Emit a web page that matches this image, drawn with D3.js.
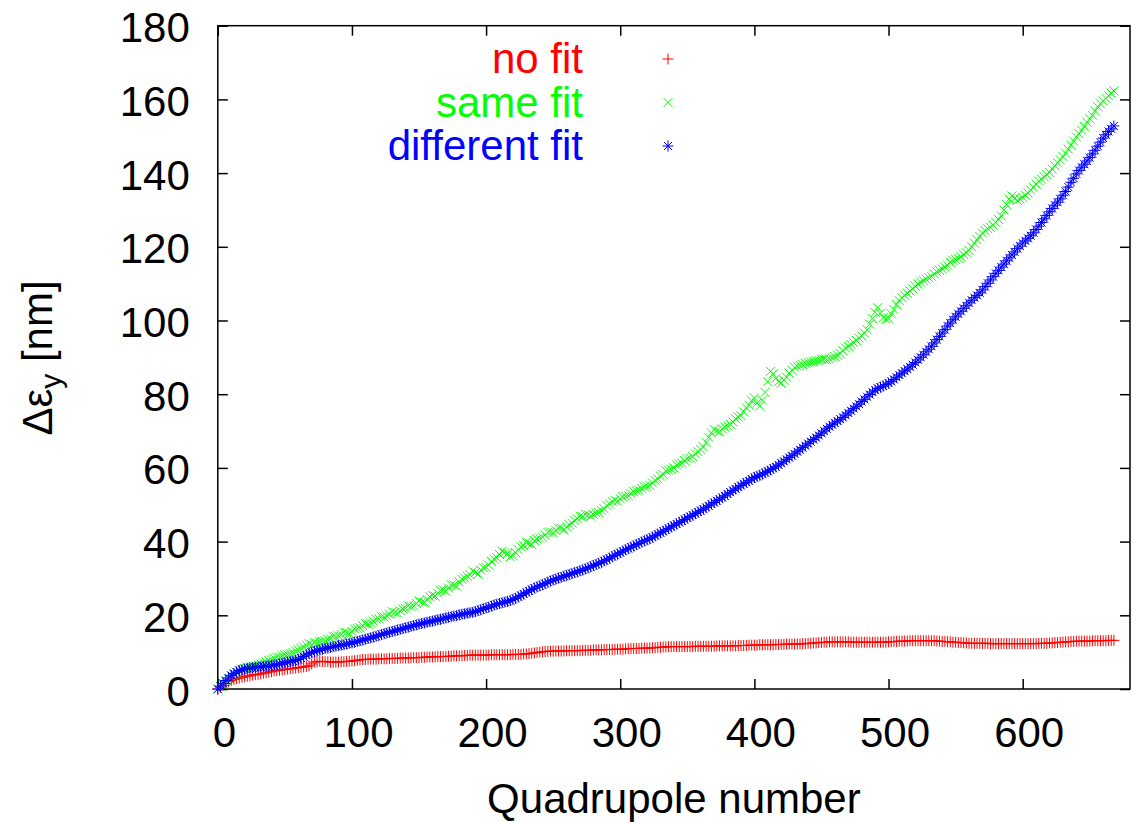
<!DOCTYPE html>
<html><head><meta charset="utf-8">
<script src="https://cdn.jsdelivr.net/npm/d3@7"></script>
<style>
body{margin:0;background:#fff}
text{font-family:"Liberation Sans",Arial,Helvetica,sans-serif}
</style>
</head><body>
<svg id="chart" width="1137" height="822"></svg>
<script>
// Quadrupole numbers sampled (every 2nd quadrupole)
const quadrupoles = d3.range(0, 669, 2);

const seriesNames = ["no fit", "same fit", "different fit"];
const seriesColors = ["#ff0000", "#00ff00", "#0000ff"];

const noFit = [
0,0.5,1.0,1.5,2.0,2.3,2.6,2.8,3.0,3.2,3.3,3.5,3.6,3.8,3.9,4.0,4.1,4.3,4.4,4.6,
4.7,4.9,5.0,5.1,5.2,5.3,5.4,5.5,5.6,5.7,5.8,5.9,6.0,6.1,6.3,6.8,7.3,7.4,7.5,7.5,
7.4,7.4,7.3,7.3,7.3,7.3,7.4,7.4,7.5,7.5,7.6,7.7,7.8,7.9,8.0,8.0,8.1,8.1,8.1,8.1,
8.2,8.2,8.2,8.2,8.3,8.3,8.3,8.3,8.4,8.4,8.4,8.4,8.5,8.5,8.5,8.5,8.6,8.6,8.7,8.7,
8.7,8.7,8.8,8.8,8.8,8.8,8.9,8.9,9.0,9.0,9.0,9.0,9.1,9.1,9.2,9.2,9.2,9.2,9.2,9.2,
9.2,9.2,9.3,9.3,9.3,9.3,9.3,9.3,9.3,9.3,9.4,9.4,9.4,9.4,9.5,9.5,9.6,9.7,9.8,9.9,
10.0,10.1,10.2,10.2,10.3,10.3,10.3,10.3,10.3,10.3,10.4,10.4,10.4,10.4,10.4,10.4,10.5,10.5,10.5,10.5,
10.6,10.6,10.6,10.6,10.7,10.7,10.7,10.7,10.8,10.8,10.8,10.8,10.9,10.9,11.0,11.0,11.0,11.0,11.1,11.1,
11.1,11.1,11.2,11.2,11.3,11.3,11.4,11.4,11.5,11.5,11.5,11.5,11.5,11.5,11.5,11.5,11.5,11.5,11.6,11.6,
11.6,11.6,11.6,11.6,11.6,11.6,11.7,11.7,11.7,11.7,11.7,11.7,11.7,11.7,11.8,11.8,11.8,11.8,11.9,11.9,
11.9,11.9,12.0,12.0,12.0,12.0,12.0,12.0,12.1,12.1,12.1,12.1,12.2,12.2,12.2,12.2,12.2,12.2,12.3,12.3,
12.4,12.4,12.5,12.5,12.6,12.6,12.7,12.7,12.8,12.8,12.8,12.8,12.8,12.8,12.8,12.8,12.7,12.7,12.7,12.7,
12.7,12.7,12.7,12.7,12.7,12.7,12.7,12.7,12.7,12.7,12.8,12.8,12.9,12.9,13.0,13.0,13.0,13.0,13.1,13.1,
13.1,13.1,13.1,13.1,13.1,13.1,13.1,13.1,13.0,13.0,12.9,12.9,12.8,12.8,12.7,12.7,12.6,12.6,12.5,12.5,
12.4,12.4,12.4,12.4,12.4,12.4,12.4,12.4,12.3,12.3,12.3,12.3,12.3,12.3,12.3,12.3,12.3,12.3,12.3,12.3,
12.3,12.3,12.3,12.3,12.3,12.3,12.4,12.4,12.4,12.4,12.5,12.5,12.6,12.6,12.7,12.7,12.8,12.8,12.9,12.9,
13.0,13.0,13.0,13.0,13.0,13.0,13.1,13.1,13.1,13.1,13.1,13.1,13.2,13.2,13.2
];

const sameFit = [
0,0.6,1.2,2.0,2.8,3.5,4.0,4.6,5.0,5.4,5.6,5.9,6.0,6.2,6.3,6.6,6.8,7.1,7.3,7.7,
7.9,8.3,8.6,8.7,9.0,9.3,9.4,9.6,9.9,10.3,10.6,11.0,11.4,11.9,12.3,12.0,12.6,12.4,12.8,13.0,
13.1,13.5,13.6,14.3,14.2,14.4,14.8,15.4,15.3,15.0,15.6,16.3,16.4,16.6,17.2,17.8,17.6,17.9,18.4,18.9,
19.0,19.6,19.5,19.8,20.3,21.0,20.8,20.6,21.2,21.7,21.9,22.6,22.4,22.5,23.2,23.9,23.6,23.5,24.3,25.0,
25.4,25.2,26.0,26.8,26.9,26.5,27.4,28.3,28.2,27.9,29.0,29.8,30.1,30.6,31.0,32.0,31.6,31.2,32.3,32.9,
33.0,33.6,34.6,35.3,35.6,36.5,37.4,37.0,36.8,35.9,36.2,37.0,37.8,38.6,38.9,39.8,39.6,39.2,40.3,40.7,
40.9,41.2,41.8,42.5,42.6,42.4,43.0,43.7,43.6,43.2,44.0,44.6,45.0,45.8,46.2,46.9,46.8,47.4,47.3,46.9,
47.4,47.8,47.9,48.5,48.9,49.8,50.2,50.9,51.2,51.0,51.6,52.2,52.3,52.5,53.0,53.6,53.8,53.9,54.4,54.9,
55.0,55.3,55.9,56.6,57.0,57.8,58.2,59.2,59.4,59.6,60.0,60.8,61.1,61.3,62.0,62.5,62.6,63.1,63.8,64.4,
65.0,65.7,66.9,68.3,69.5,70.4,70.0,69.8,70.6,71.1,71.4,71.8,72.5,73.3,73.8,74.2,75.2,76.3,77.0,78.2,
79.0,77.6,76.8,78.4,80.5,83.4,86.2,85.5,84.3,83.4,83.0,83.8,84.6,85.7,86.5,87.3,87.6,87.8,88.0,88.4,
88.5,88.7,88.9,89.1,89.2,89.4,89.5,89.4,89.6,89.9,90.2,90.6,91.0,91.8,92.5,93.0,93.5,94.0,94.6,95.2,
95.8,96.6,97.5,99.0,100.5,102.2,103.5,102.0,100.8,100.4,100.6,101.8,103.0,104.3,105.4,106.2,106.8,107.4,108.0,108.6,
109.3,109.9,110.4,110.8,111.2,111.6,112.0,112.7,113.2,113.6,114.0,114.5,115.0,115.8,116.3,116.6,116.8,117.3,117.9,118.4,
119.0,120.0,121.0,121.9,122.8,123.7,124.4,124.9,125.3,125.9,126.6,127.4,128.4,130.0,131.5,132.9,133.8,133.2,132.6,133.0,
133.4,134.0,134.6,135.4,136.2,137.0,137.8,138.4,139.0,139.6,140.2,141.1,142.0,142.8,143.6,144.5,145.4,146.5,147.6,148.7,
149.8,150.7,151.6,152.7,153.8,154.7,155.7,156.9,158.0,158.8,159.6,160.3,161.0,161.7,162.3
];

const differentFit = [
0,0.8,1.5,2.3,3.0,3.7,4.2,4.6,5.0,5.2,5.4,5.6,5.7,5.8,5.9,6.0,6.0,6.1,6.2,6.3,
6.4,6.5,6.6,6.8,7.0,7.1,7.3,7.5,7.6,7.8,8.0,8.4,8.8,9.2,9.6,9.9,10.2,10.4,10.6,10.8,
11.0,11.1,11.3,11.5,11.6,11.8,11.9,12.0,12.2,12.4,12.5,12.7,12.9,13.1,13.3,13.5,13.7,13.9,14.1,14.3,
14.5,14.8,15.0,15.2,15.4,15.6,15.8,16.0,16.2,16.4,16.6,16.8,17.0,17.2,17.4,17.6,17.8,17.9,18.1,18.3,
18.4,18.6,18.8,18.9,19.1,19.3,19.5,19.6,19.8,19.9,20.1,20.3,20.4,20.6,20.7,20.8,21.0,21.3,21.5,21.8,
22.0,22.2,22.5,22.8,23.0,23.2,23.4,23.6,23.8,24.0,24.3,24.6,25.0,25.4,25.8,26.2,26.6,27.0,27.4,27.7,
28.0,28.3,28.6,29.0,29.3,29.6,29.8,30.1,30.3,30.6,30.8,31.1,31.3,31.6,31.8,32.1,32.3,32.6,32.9,33.2,
33.5,33.8,34.1,34.4,34.8,35.1,35.5,35.9,36.3,36.6,37.0,37.4,37.8,38.1,38.5,38.8,39.2,39.5,39.9,40.2,
40.5,40.8,41.2,41.6,42.0,42.4,42.8,43.2,43.6,44.0,44.4,44.8,45.2,45.6,46.0,46.4,46.8,47.2,47.6,48.0,
48.4,48.8,49.3,49.7,50.2,50.6,51.1,51.5,52.0,52.4,52.9,53.4,53.9,54.3,54.8,55.2,55.7,56.1,56.5,57.0,
57.4,57.7,58.0,58.3,58.7,59.1,59.5,59.9,60.3,60.8,61.3,61.8,62.3,62.8,63.3,63.8,64.4,64.9,65.5,66.0,
66.6,67.1,67.7,68.2,68.8,69.4,70.0,70.6,71.2,71.7,72.2,72.7,73.2,73.7,74.3,74.9,75.5,76.1,76.7,77.3,
78.0,78.6,79.3,79.9,80.6,81.1,81.6,81.9,82.2,82.6,83.0,83.5,84.0,84.6,85.2,85.7,86.3,86.8,87.4,88.0,
88.6,89.3,90.0,90.7,91.5,92.2,93.0,93.9,94.8,95.7,96.6,97.5,98.5,99.3,100.2,101.0,101.8,102.5,103.3,104.0,
104.8,105.5,106.2,106.8,107.5,108.3,109.2,110.1,111.0,111.9,112.8,113.6,114.5,115.3,116.2,117.0,117.8,118.6,119.5,120.2,
121.0,121.6,122.3,123.0,123.8,124.7,125.6,126.6,127.6,128.5,129.5,130.4,131.3,132.1,133.0,134.0,135.0,136.2,137.5,138.6,
139.8,140.7,141.6,142.4,143.3,144.2,145.2,146.2,147.3,148.4,149.5,150.4,151.3,152.0,152.8
];

const xTicks = [0, 100, 200, 300, 400, 500, 600];
const yTicks = [0, 20, 40, 60, 80, 100, 120, 140, 160, 180];

const svg = d3.select("#chart");
const L = 217.8, R = 1130, T = 25.7, B = 689;
const x = d3.scaleLinear().domain([0, 680]).range([L, R]);
const y = d3.scaleLinear().domain([0, 180]).range([B, T]);
const FS = 42;

// axes (ticks inward, mirrored)
const gB = svg.append("g").attr("transform", `translate(0,${B})`)
  .call(d3.axisBottom(x).tickValues(xTicks).tickSize(-10).tickSizeOuter(0).tickFormat(d3.format("d")));
const gT = svg.append("g").attr("transform", `translate(0,${T})`)
  .call(d3.axisTop(x).tickValues(xTicks).tickSize(-10).tickSizeOuter(0).tickFormat(""));
const gL = svg.append("g").attr("transform", `translate(${L},0)`)
  .call(d3.axisLeft(y).tickValues(yTicks).tickSize(-10).tickSizeOuter(0).tickFormat(d3.format("d")));
const gR = svg.append("g").attr("transform", `translate(${R},0)`)
  .call(d3.axisRight(y).tickValues(yTicks).tickSize(-10).tickSizeOuter(0).tickFormat(""));
[gB, gT, gL, gR].forEach(g => {
  g.select(".domain").remove();
  g.selectAll(".tick line").attr("stroke", "#000").attr("stroke-width", 1.5);
});
gB.selectAll(".tick text").attr("y", 58).attr("dy", null).attr("x", 6)
  .attr("font-size", FS).attr("fill", "#000").attr("font-family", null);
gL.selectAll(".tick text").attr("x", -28).attr("dy", 16)
  .attr("font-size", FS).attr("fill", "#000").attr("font-family", null);

// frame
svg.append("rect").attr("x", L).attr("y", T).attr("width", R - L).attr("height", B - T)
  .attr("fill", "none").attr("stroke", "#000").attr("stroke-width", 1.5);

// marker shapes
const plusPath = "M-5.5,0h11M0,-5.5v11";
const crossPath = "M-4.5,-4.5l9,9M-4.5,4.5l9,-9";
const starPath = plusPath + "M-4,-4l8,8M-4,4l8,-8";
const markers = [plusPath, crossPath, starPath];

const series = [noFit, sameFit, differentFit];
series.forEach((vals, i) => {
  svg.append("g")
    .selectAll("path")
    .data(quadrupoles.map((q, k) => [q, vals[k]]).filter(d => d[1] !== undefined))
    .join("path")
    .attr("transform", d => `translate(${x(d[0])},${y(d[1])})`)
    .attr("d", markers[i])
    .attr("fill", "none")
    .attr("stroke", seriesColors[i])
    .attr("stroke-width", 1);
});

// legend
seriesNames.forEach((name, i) => {
  const base = 73 + i * 43.5;
  svg.append("text").attr("x", 583).attr("y", base).attr("text-anchor", "end")
    .attr("font-size", FS).attr("fill", seriesColors[i]).text(name);
  svg.append("path").attr("transform", `translate(668,${base - 14})`)
    .attr("d", markers[i]).attr("fill", "none").attr("stroke", seriesColors[i]).attr("stroke-width", 1);
});

// axis titles
svg.append("text").attr("x", (L + R) / 2).attr("y", 813).attr("text-anchor", "middle")
  .attr("font-size", FS).attr("fill", "#000").text("Quadrupole number");
const yt = svg.append("text").attr("transform", "translate(52,358) rotate(-90)")
  .attr("text-anchor", "middle").attr("font-size", FS).attr("fill", "#000");
yt.append("tspan").text("Δε");
yt.append("tspan").attr("font-size", 30).attr("dy", 9).text("y");
yt.append("tspan").attr("dy", -9).text(" [nm]");
</script>
</body></html>
